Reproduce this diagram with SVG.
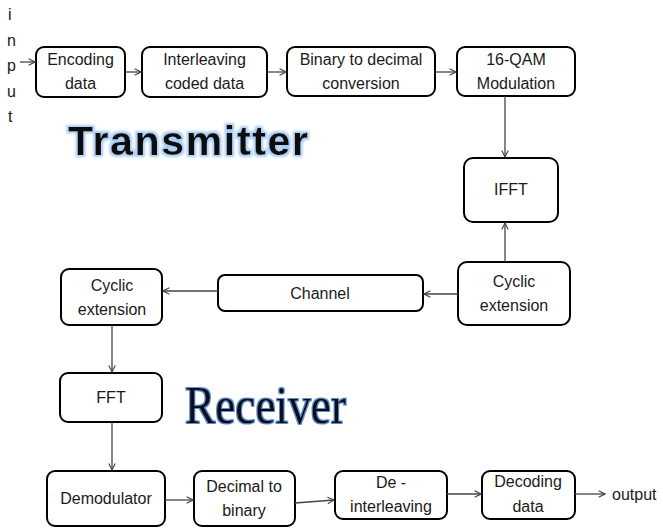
<svg xmlns="http://www.w3.org/2000/svg" width="663" height="528" viewBox="0 0 663 528">
  <style>
    .box { fill: #ffffff; stroke: #000000; stroke-width: 2; }
    .lbl { font-family: "Liberation Sans", Arial, sans-serif; font-size: 16px; fill: #1a1a1a; text-anchor: middle; }
    .io { font-family: "Liberation Sans", Arial, sans-serif; font-size: 16px; fill: #1a1a1a; }
    .conn { fill: none; stroke: #444444; stroke-width: 1.3; marker-end: url(#arrow); }
  </style>
  <defs>
    <marker id="arrow" viewBox="0 0 10 10" refX="9" refY="5" markerWidth="8" markerHeight="8" markerUnits="userSpaceOnUse" orient="auto">
      <path d="M1,1 L9,5 L1,9" fill="none" stroke="#444444" stroke-width="1.4"/>
    </marker>
    <!-- soft light-blue halo behind heading text -->
    <filter id="glow" x="-10%" y="-30%" width="120%" height="160%">
      <feMorphology in="SourceAlpha" operator="dilate" radius="1.5" result="thick"/>
      <feGaussianBlur in="thick" stdDeviation="1.2" result="soft"/>
      <feFlood flood-color="#a9cdf2"/>
      <feComposite in2="soft" operator="in" result="halo"/>
      <feMerge>
        <feMergeNode in="halo"/>
        <feMergeNode in="SourceGraphic"/>
      </feMerge>
    </filter>
    <filter id="edge" x="-10%" y="-30%" width="120%" height="160%">
      <feMorphology in="SourceAlpha" operator="dilate" radius="0.8" result="thick"/>
      <feGaussianBlur in="thick" stdDeviation="0.7" result="soft"/>
      <feFlood flood-color="#5f8fcf"/>
      <feComposite in2="soft" operator="in" result="halo"/>
      <feMerge>
        <feMergeNode in="halo"/>
        <feMergeNode in="SourceGraphic"/>
      </feMerge>
    </filter>
  </defs>

  <rect width="663" height="528" fill="#ffffff"/>

  <!-- input label, one letter per line -->
  <g id="input" class="io">
    <text x="8" y="20">i</text>
    <text x="7" y="46">n</text>
    <text x="7" y="71">p</text>
    <text x="7" y="97">u</text>
    <text x="8" y="122">t</text>
  </g>

  <!-- section titles -->
  <text id="title-tx" x="68" y="155" textLength="240" lengthAdjust="spacing" font-family="'Liberation Sans', Arial, sans-serif" font-weight="bold" font-size="41" fill="#0a0a0a" filter="url(#glow)">Transmitter</text>
  <text id="title-rx" x="185" y="423" textLength="161" lengthAdjust="spacingAndGlyphs" font-family="'Liberation Serif', 'Times New Roman', serif" font-size="52" fill="#0a0f1c" filter="url(#edge)">Receiver</text>

  <!-- transmitter chain -->
  <g id="encoding">
    <rect class="box" x="36" y="47" width="89" height="50" rx="8"/>
    <text class="lbl" x="80.5" y="65">Encoding</text>
    <text class="lbl" x="80.5" y="89">data</text>
  </g>
  <g id="interleaving">
    <rect class="box" x="142" y="47" width="125" height="50" rx="8"/>
    <text class="lbl" x="204.5" y="65">Interleaving</text>
    <text class="lbl" x="204.5" y="89">coded data</text>
  </g>
  <g id="bin2dec">
    <rect class="box" x="287" y="47" width="148" height="49" rx="8"/>
    <text class="lbl" x="361" y="65">Binary to decimal</text>
    <text class="lbl" x="361" y="89">conversion</text>
  </g>
  <g id="qam">
    <rect class="box" x="457" y="47" width="118" height="49" rx="8"/>
    <text class="lbl" x="516" y="65">16-QAM</text>
    <text class="lbl" x="516" y="89">Modulation</text>
  </g>
  <g id="ifft">
    <rect class="box" x="464" y="158" width="94" height="64" rx="9"/>
    <text class="lbl" x="511" y="195">IFFT</text>
  </g>
  <g id="cyclic-tx">
    <rect class="box" x="458" y="262" width="112" height="63" rx="9"/>
    <text class="lbl" x="514" y="287">Cyclic</text>
    <text class="lbl" x="514" y="311">extension</text>
  </g>
  <g id="channel">
    <rect class="box" x="218" y="275" width="205" height="36" rx="7"/>
    <text class="lbl" x="320" y="299">Channel</text>
  </g>

  <!-- receiver chain -->
  <g id="cyclic-rx">
    <rect class="box" x="61" y="269" width="101" height="56" rx="8"/>
    <text class="lbl" x="112" y="291">Cyclic</text>
    <text class="lbl" x="112" y="315">extension</text>
  </g>
  <g id="fft">
    <rect class="box" x="60" y="373" width="102" height="49" rx="8"/>
    <text class="lbl" x="111" y="403">FFT</text>
  </g>
  <g id="demod">
    <rect class="box" x="47" y="471" width="118" height="55" rx="8"/>
    <text class="lbl" x="106" y="504">Demodulator</text>
  </g>
  <g id="dec2bin">
    <rect class="box" x="194" y="471" width="101" height="55" rx="8"/>
    <text class="lbl" x="244" y="492">Decimal to</text>
    <text class="lbl" x="244" y="516">binary</text>
  </g>
  <g id="deinterleaving">
    <rect class="box" x="335" y="471" width="112" height="48" rx="8"/>
    <text class="lbl" x="391" y="488">De -</text>
    <text class="lbl" x="391" y="512">interleaving</text>
  </g>
  <g id="decoding">
    <rect class="box" x="482" y="471" width="93" height="48" rx="8"/>
    <text class="lbl" x="528" y="487">Decoding</text>
    <text class="lbl" x="528" y="512">data</text>
  </g>
  <text id="output" class="io" x="612" y="500">output</text>

  <!-- connectors -->
  <g id="connectors">
    <path class="conn" d="M20,62 L35,62"/>
    <path class="conn" d="M125,72 L141,72"/>
    <path class="conn" d="M267,72 L286,72"/>
    <path class="conn" d="M435,72 L456,72"/>
    <path class="conn" d="M505,96 L505,157"/>
    <path class="conn" d="M505,262 L505,223"/>
    <path class="conn" d="M458,294 L424,294"/>
    <path class="conn" d="M218,291 L163,291"/>
    <path class="conn" d="M112,325 L112,372"/>
    <path class="conn" d="M112,422 L112,470"/>
    <path class="conn" d="M165,500 L193,500"/>
    <path class="conn" d="M295,503 L334,500"/>
    <path class="conn" d="M447,494 L481,494"/>
    <path class="conn" d="M575,494 L605,494"/>
  </g>
</svg>
